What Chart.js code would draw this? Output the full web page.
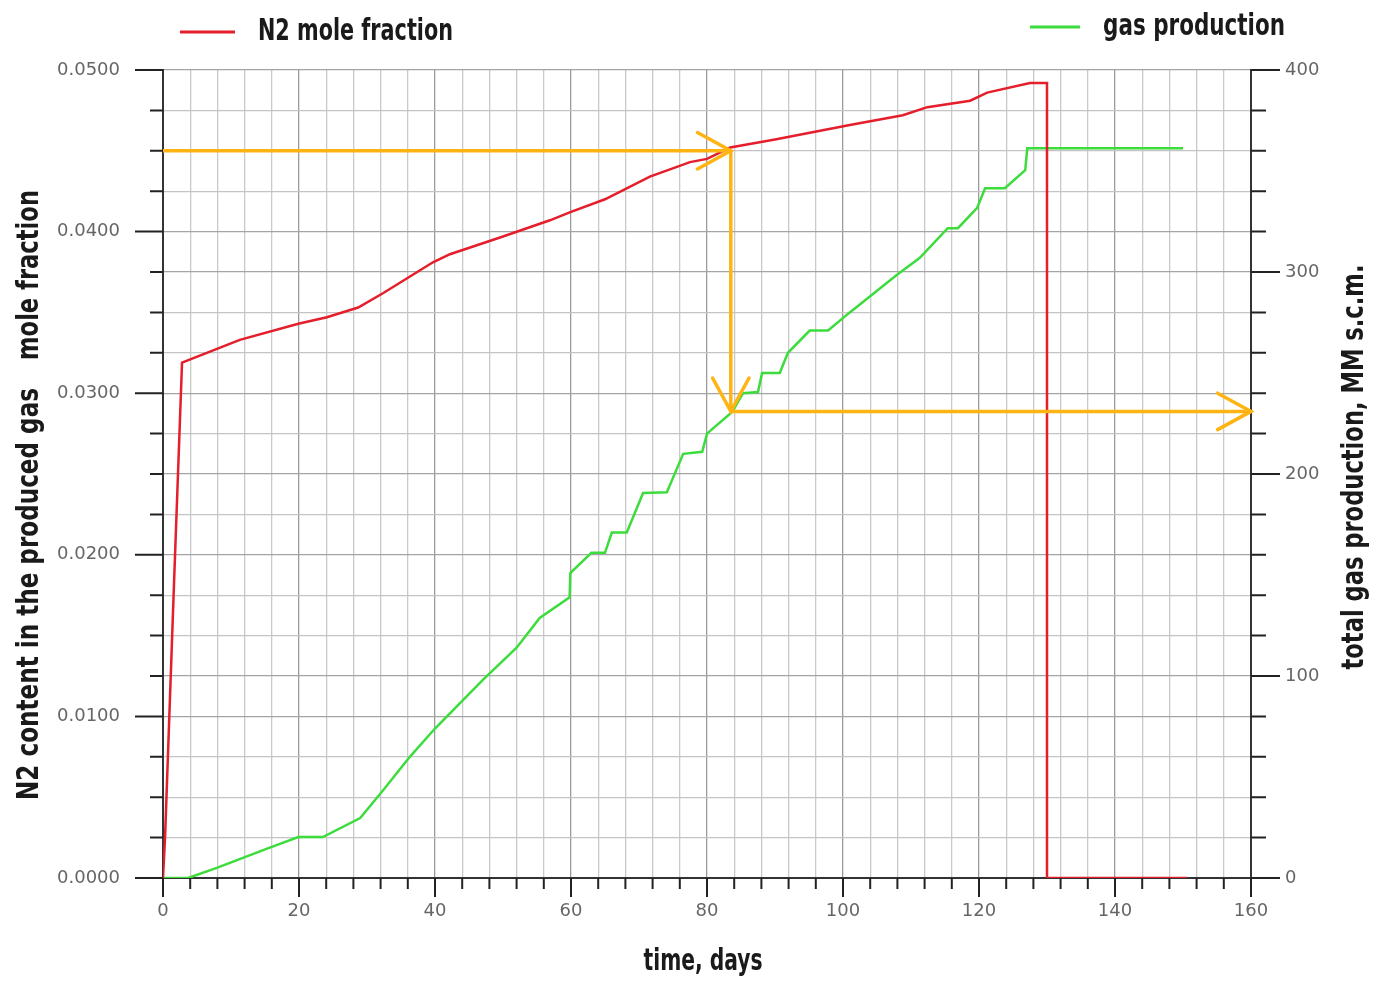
<!DOCTYPE html>
<html>
<head>
<meta charset="utf-8">
<title>N2 mole fraction and gas production</title>
<script src="https://cdn.jsdelivr.net/npm/chart.js@4.4.1/dist/chart.umd.min.js"></script>
<style>
  html, body { margin: 0; padding: 0; background: #fff; }
  #wrap { width: 1373px; height: 987px; position: relative; }
</style>
</head>
<body>
<div id="wrap"><canvas id="chart"></canvas></div>
<script>
// N2 content in the produced gas (left axis)
const n2Days     = [0, 0.3, 1.6, 2.8, 11.3, 19.9, 24.1, 28.7, 32.4, 39.7, 42.2, 50, 56.9, 59.9, 65, 71.6, 77.5, 80, 83.4, 90, 101, 108.8, 112.4, 118.7, 121.2, 127.5, 130, 130, 150.6];
const n2Fraction = [0, 0.0025, 0.018, 0.0319, 0.0333, 0.0343, 0.0347, 0.0353, 0.0362, 0.0381, 0.0386, 0.0397, 0.0407, 0.0412, 0.0420, 0.0434, 0.0443, 0.0445, 0.0452, 0.0457, 0.0466, 0.0472, 0.0477, 0.0481, 0.0486, 0.0492, 0.0492, 0, 0];

// total gas production, MM s.c.m. (right axis)
const gasDays  = [0, 3.7, 7.9, 15.7, 19.9, 23.5, 29, 32.4, 36.3, 40, 47, 52, 55.4, 59.8, 59.9, 63, 65, 66, 68.2, 70.6, 74.1, 76.5, 79.3, 80, 83.7, 85.3, 87.5, 88.1, 90.7, 91.9, 95.1, 97.8, 101, 107.9, 111.3, 115.4, 116.9, 119.7, 120.9, 123.8, 126.8, 127.1, 150];
const gasTotal = [0, 0, 5, 15, 20.3, 20.3, 29.7, 43.6, 60, 74, 98, 114, 128.7, 139, 151, 161, 161, 171, 171, 190.6, 191, 210, 211, 220, 230.7, 240, 240.6, 250, 250, 260, 271, 271, 280, 298.5, 307, 321.7, 321.7, 331.6, 341.5, 341.5, 350.4, 361.3, 361.3];

// reading arrows: N2 level -> day -> gas produced
const arrowDays     = [0, 83.5, 160];
const arrowFraction = 0.045;
const arrowGas      = [360, 231];

// labelled ticks
const xLabels     = [0, 20, 40, 60, 80, 100, 120, 140, 160];
const leftLabels  = [0, 0.01, 0.02, 0.03, 0.04, 0.05];
const rightLabels = [0, 100, 200, 300, 400];

const titleFont = "bold 30px 'Liberation Sans Narrow', 'DejaVu Sans Condensed', 'Arial Narrow', sans-serif";
const tickFont = { family: "'DejaVu Sans', sans-serif", size: 18 };
const arrowColor = '#ffb414';

function pairs(xs, ys) {
  return xs.map((v, i) => ({ x: v, y: ys[i] }));
}
function near(list, v, eps) {
  return list.some(l => Math.abs(l - v) < eps);
}

// draws text squeezed horizontally to a given width (narrow title face)
function narrowText(ctx, text, cx, cy, width, angle) {
  const w = ctx.measureText(text).width;
  ctx.save();
  ctx.translate(cx, cy);
  if (angle) ctx.rotate(angle);
  ctx.scale(width / w, 1);
  ctx.textAlign = 'center';
  ctx.textBaseline = 'middle';
  ctx.fillText(text, 0, 0);
  ctx.restore();
}

// tick marks: long at labelled values, short elsewhere
const tickMarks = {
  id: 'tickMarks',
  afterDraw(chart) {
    const ctx = chart.ctx;
    const { x, y, y1 } = chart.scales;
    ctx.save();
    ctx.strokeStyle = '#222';
    ctx.lineWidth = 2;
    ctx.beginPath();
    x.ticks.forEach(t => {
      const px = x.getPixelForValue(t.value);
      const len = near(xLabels, t.value, 1e-6) ? 19 : 11;
      ctx.moveTo(px, x.top); ctx.lineTo(px, x.top + len);
    });
    y.ticks.forEach(t => {
      const py = y.getPixelForValue(t.value);
      const len = near(leftLabels, t.value, 1e-7) ? 28 : 13;
      ctx.moveTo(y.right, py); ctx.lineTo(y.right - len, py);
    });
    y1.ticks.forEach(t => {
      const py = y1.getPixelForValue(t.value);
      const len = near(rightLabels, t.value, 1e-6) ? 29 : 15;
      ctx.moveTo(y1.left, py); ctx.lineTo(y1.left + len, py);
    });
    ctx.stroke();
    ctx.restore();
  }
};

// open chevron heads at the end of each arrow dataset
const arrowHeads = {
  id: 'arrowHeads',
  afterDatasetsDraw(chart) {
    const ctx = chart.ctx;
    chart.data.datasets.forEach((ds, i) => {
      if (!ds.isArrow) return;
      const pts = chart.getDatasetMeta(i).data;
      const a = pts[pts.length - 2], b = pts[pts.length - 1];
      const ang = Math.atan2(b.y - a.y, b.x - a.x);
      const len = 38, spread = 0.5;
      ctx.save();
      ctx.strokeStyle = ds.borderColor;
      ctx.lineWidth = 3.5;
      ctx.lineCap = 'round';
      ctx.beginPath();
      ctx.moveTo(b.x - len * Math.cos(ang - spread), b.y - len * Math.sin(ang - spread));
      ctx.lineTo(b.x, b.y);
      ctx.lineTo(b.x - len * Math.cos(ang + spread), b.y - len * Math.sin(ang + spread));
      ctx.stroke();
      ctx.restore();
    });
  }
};

// legend entries and axis titles
const labelsPlugin = {
  id: 'labelsPlugin',
  afterDraw(chart) {
    const ctx = chart.ctx;
    const ds = chart.data.datasets;
    ctx.save();
    ctx.font = titleFont;
    ctx.fillStyle = '#1a1a1a';

    // legend
    const legendItems = [
      { d: ds[0], x0: 180, x1: 235, tx: 258, w: 195, y: 32 },
      { d: ds[1], x0: 1030, x1: 1080, tx: 1103, w: 182, y: 27 }
    ];
    legendItems.forEach(it => {
      ctx.strokeStyle = it.d.borderColor;
      ctx.lineWidth = 3;
      ctx.beginPath();
      ctx.moveTo(it.x0, it.y); ctx.lineTo(it.x1, it.y);
      ctx.stroke();
      narrowText(ctx, it.d.label, it.tx + it.w / 2, it.y, it.w, 0);
    });

    // x title
    narrowText(ctx, 'time, days', 703, 962, 119, 0);

    // left title
    narrowText(ctx, 'N2 content in the produced gas', 30, 594, 412, -Math.PI / 2);
    narrowText(ctx, 'mole fraction', 30, 275, 170, -Math.PI / 2);

    // right title
    narrowText(ctx, 'total gas production, MM s.c.m.', 1355, 467, 405, -Math.PI / 2);

    ctx.restore();
  }
};

const ctx = document.getElementById('chart').getContext('2d');

new Chart(ctx, {
  type: 'line',
  data: {
    datasets: [
      {
        label: 'N2 mole fraction',
        data: pairs(n2Days, n2Fraction),
        yAxisID: 'y',
        borderColor: '#e41e2b',
        borderWidth: 2.5,
        order: 1
      },
      {
        label: 'gas production',
        data: pairs(gasDays, gasTotal),
        yAxisID: 'y1',
        borderColor: '#3ddc3d',
        borderWidth: 2.5,
        order: 2
      },
      {
        label: 'arrow 1',
        isArrow: true,
        data: pairs(arrowDays.slice(0, 2), [arrowFraction, arrowFraction]),
        yAxisID: 'y',
        borderColor: arrowColor,
        borderWidth: 3.5,
        order: 0
      },
      {
        label: 'arrow 2',
        isArrow: true,
        data: pairs([arrowDays[1], arrowDays[1]], arrowGas),
        yAxisID: 'y1',
        borderColor: arrowColor,
        borderWidth: 3.5,
        order: 0
      },
      {
        label: 'arrow 3',
        isArrow: true,
        data: pairs(arrowDays.slice(1), [arrowGas[1], arrowGas[1]]),
        yAxisID: 'y1',
        borderColor: arrowColor,
        borderWidth: 3.5,
        order: 0
      }
    ]
  },
  options: {
    responsive: true,
    maintainAspectRatio: false,
    animation: false,
    elements: {
      point: { radius: 0, hoverRadius: 0 },
      line: { tension: 0, fill: false }
    },
    layout: { padding: { top: 70, left: 0, right: 0, bottom: 0 } },
    plugins: {
      legend: { display: false },
      tooltip: { enabled: false }
    },
    scales: {
      x: {
        type: 'linear',
        min: 0,
        max: 160,
        afterFit: s => { s.height = 109; },
        border: { display: true, color: '#333', width: 2 },
        grid: {
          drawTicks: false,
          lineWidth: 1.3,
          color: c => (c.tick && near(xLabels, c.tick.value, 1e-6)) ? '#9c9c9c' : '#cacaca'
        },
        ticks: {
          stepSize: 4,
          autoSkip: false,
          maxRotation: 0,
          padding: 23,
          color: '#666',
          font: tickFont,
          callback: v => near(xLabels, v, 1e-6) ? String(v) : ''
        }
      },
      y: {
        type: 'linear',
        position: 'left',
        min: 0,
        max: 0.05,
        afterFit: s => { s.width = 163; },
        border: { display: true, color: '#333', width: 2 },
        grid: {
          drawTicks: false,
          lineWidth: 1.3,
          color: c => {
            if (!c.tick) return '#c4c4c4';
            const v = c.tick.value;
            const major = near(leftLabels, v, 1e-7) || near(rightLabels, v / 0.05 * 400, 1e-4);
            return major ? '#a4a4a4' : '#c4c4c4';
          }
        },
        ticks: {
          stepSize: 0.0025,
          autoSkip: false,
          padding: 43,
          color: '#666',
          font: tickFont,
          callback: v => near(leftLabels, v, 1e-7) ? v.toFixed(4) : ''
        }
      },
      y1: {
        type: 'linear',
        position: 'right',
        min: 0,
        max: 400,
        afterFit: s => { s.width = 122; },
        border: { display: true, color: '#333', width: 2 },
        grid: { drawOnChartArea: false, drawTicks: false },
        ticks: {
          stepSize: 20,
          autoSkip: false,
          padding: 34,
          color: '#666',
          font: tickFont,
          callback: v => near(rightLabels, v, 1e-6) ? String(v) : ''
        }
      }
    }
  },
  plugins: [tickMarks, arrowHeads, labelsPlugin]
});
</script>
</body>
</html>
